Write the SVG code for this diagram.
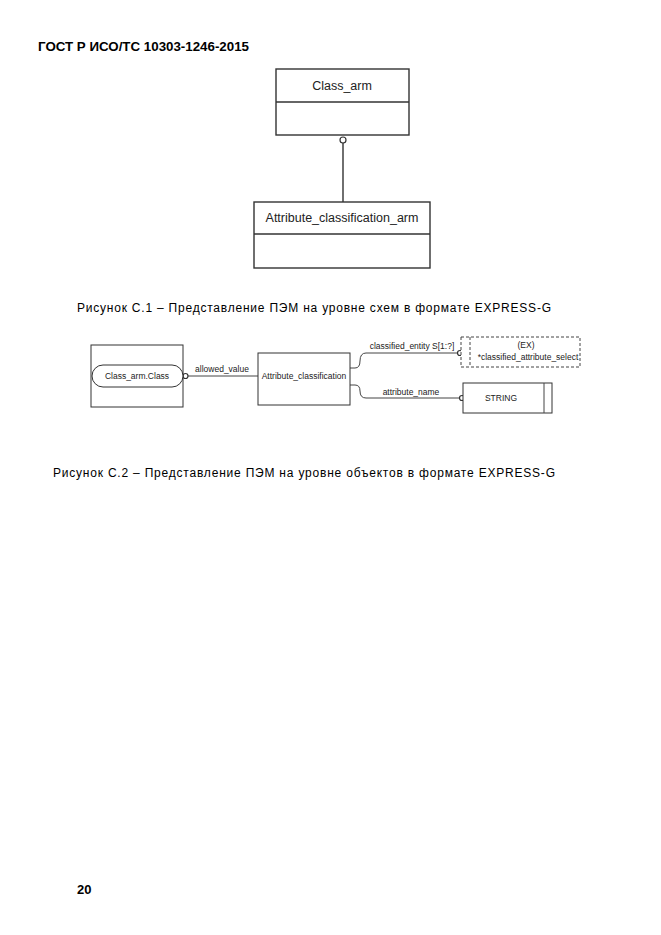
<svg xmlns="http://www.w3.org/2000/svg" width="661" height="935" viewBox="0 0 661 935">
<style>
.bg{fill:#ffffff}
.box{fill:#ffffff;stroke:#333333;stroke-width:1.4}
.thin{fill:#ffffff;stroke:#333333;stroke-width:1}
.dash{fill:#ffffff;stroke:#444444;stroke-width:1;stroke-dasharray:3 2}
.ln{fill:none;stroke:#333333;stroke-width:1.4}
.ln2{fill:none;stroke:#444444;stroke-width:1}
.circ{fill:#ffffff;stroke:#333333;stroke-width:1.2}
.t{font-family:"Liberation Sans",Arial,sans-serif;fill:#222222}
.cap{font-family:"Liberation Sans",Arial,sans-serif;font-size:12px;fill:#000000}
.hdr{font-family:"Liberation Sans",Arial,sans-serif;font-size:13px;font-weight:bold;fill:#000000}
</style>
<rect class="bg" x="0" y="0" width="661" height="935"/>
<text class="hdr" x="38" y="51" textLength="211" lengthAdjust="spacingAndGlyphs">ГОСТ Р ИСО/ТС 10303-1246-2015</text>

<g id="connectors">
<line class="ln" x1="343" y1="143" x2="343" y2="202"/>
<circle class="circ" cx="343" cy="140" r="3"/>
<line class="ln2" x1="188" y1="376" x2="258" y2="376"/>
<circle class="circ" cx="185.5" cy="376" r="2.5"/>
<path class="ln2" d="M350 368 H355 Q360 368 360 361 Q360 353 366 353 H458"/>
<circle class="circ" cx="460" cy="353" r="2.5"/>
<path class="ln2" d="M350 385 H355 Q360 385 360 391 Q360 398 366 398 H460"/>
<circle class="circ" cx="462" cy="398" r="2.5"/>
<text class="t" x="222" y="372" font-size="8.5" text-anchor="middle">allowed_value</text>
<text class="t" x="412" y="349" font-size="8.5" text-anchor="middle">classified_entity S[1:?]</text>
<text class="t" x="411" y="395" font-size="8.5" text-anchor="middle">attribute_name</text>
</g>

<g id="class_arm">
<rect class="box" x="276" y="69" width="133" height="66"/>
<line class="ln" x1="276" y1="102" x2="409" y2="102"/>
<text class="t" x="342" y="90" font-size="12.5" text-anchor="middle">Class_arm</text>
</g>

<g id="attribute_classification_arm">
<rect class="box" x="254" y="202" width="176" height="66"/>
<line class="ln" x1="254" y1="234" x2="430" y2="234"/>
<text class="t" x="342" y="222" font-size="12.5" text-anchor="middle">Attribute_classification_arm</text>
</g>

<text class="cap" x="77" y="312" textLength="474" lengthAdjust="spacing">Рисунок С.1 – Представление ПЭМ на уровне схем в формате EXPRESS-G</text>

<g id="class_arm_class">
<rect class="thin" x="91" y="345" width="92" height="62"/>
<rect class="thin" x="92" y="365" width="91" height="22" rx="11" ry="11"/>
<text class="t" x="137" y="379" font-size="8.5" text-anchor="middle">Class_arm.Class</text>
</g>

<g id="attribute_classification">
<rect class="thin" x="258" y="353" width="92" height="52"/>
<text class="t" x="304" y="379" font-size="8.5" text-anchor="middle">Attribute_classification</text>
</g>

<g id="classified_attribute_select">
<rect class="dash" x="461" y="337" width="119" height="30"/>
<line class="dash" x1="470" y1="337" x2="470" y2="367"/>
<text class="t" x="526" y="348" font-size="8.5" text-anchor="middle">(EX)</text>
<text class="t" x="528" y="360" font-size="8.5" text-anchor="middle">*classified_attribute_select</text>
</g>

<g id="string">
<rect class="thin" x="463" y="383" width="89" height="30"/>
<line class="ln2" x1="544" y1="383" x2="544" y2="413"/>
<text class="t" x="501" y="401" font-size="8.5" text-anchor="middle">STRING</text>
</g>

<text class="cap" x="53" y="477" textLength="502" lengthAdjust="spacing">Рисунок С.2 – Представление ПЭМ на уровне объектов в формате EXPRESS-G</text>

<text class="hdr" x="77" y="894">20</text>
</svg>
